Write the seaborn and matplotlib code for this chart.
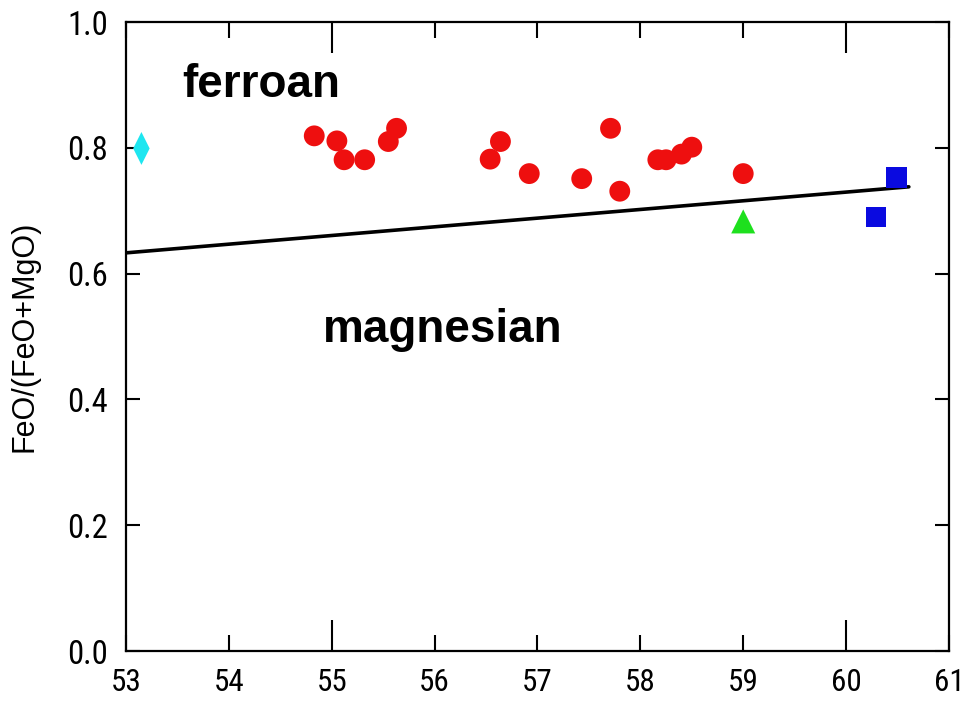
import matplotlib
matplotlib.use("Agg")
import matplotlib.pyplot as plt
from matplotlib import font_manager
from matplotlib.ticker import FixedLocator, FixedFormatter
import seaborn as sns

# ---- data ----
red_x = [54.83, 55.05, 55.12, 55.32, 55.55, 55.63, 56.54, 56.64, 56.92,
         57.43, 57.71, 57.80, 58.17, 58.25, 58.40, 58.50, 59.00]
red_y = [0.819, 0.811, 0.781, 0.781, 0.810, 0.831, 0.782, 0.810, 0.759,
         0.751, 0.831, 0.731, 0.781, 0.781, 0.790, 0.801, 0.759]
cyan_x = [53.15]
cyan_y = [0.799]
green_x = [59.00]
green_y = [0.683]
blue_x = [60.49, 60.29]
blue_y = [0.753, 0.690]
line_x = [53.0, 60.61]
line_y = [0.633, 0.738]

x_ticks = [53, 54, 55, 56, 57, 58, 59, 60, 61]
x_major = [55, 60]
y_ticks = [0.0, 0.2, 0.4, 0.6, 0.8, 1.0]
y_tick_labels = ["0.0", "0.2", "0.4", "0.6", "0.8", "1.0"]
x_label = ""
y_label = "FeO/(FeO+MgO)"
labels = ["ferroan", "magnesian"]

sns.set_style("white")
names = {f.name for f in font_manager.fontManager.ttflist}
narrow = "Liberation Sans"
for cand in ["Liberation Sans Narrow", "Arial Narrow", "Roboto Condensed",
             "DejaVu Sans Condensed", "Open Sans Condensed"]:
    if cand in names:
        narrow = cand
        break
plt.rcParams["font.family"] = ["Liberation Sans", "DejaVu Sans"]
plt.rcParams["text.color"] = "black"
plt.rcParams["axes.labelcolor"] = "black"
plt.rcParams["xtick.color"] = "black"
plt.rcParams["ytick.color"] = "black"

fig = plt.figure(figsize=(9.64, 7.01), dpi=100)
ax = fig.add_axes([0.1307, 0.0713, 0.8537, 0.8973])

diamond = [(0, 1), (0.5, 0), (0, -1), (-0.5, 0), (0, 1)]

sns.lineplot(x=line_x, y=line_y, ax=ax, color="black", linewidth=2.6, zorder=2)
sns.scatterplot(x=red_x, y=red_y, ax=ax, color="#ee0f0f", marker="o", s=225,
                edgecolor="none", zorder=3)
sns.scatterplot(x=cyan_x, y=cyan_y, ax=ax, color="#1ee6f0", marker=diamond, s=560,
                edgecolor="none", zorder=3)
sns.scatterplot(x=green_x, y=green_y, ax=ax, color="#1ee01e", marker="^", s=300,
                edgecolor="none", zorder=3)
sns.scatterplot(x=blue_x, y=blue_y, ax=ax, color="#0a0ae0", marker="s", s=220,
                edgecolor="none", zorder=3)

ax.set_xlim(53, 61)
ax.set_ylim(0, 1.0)

minor_ticks = [t for t in x_ticks if t not in x_major]
ax.xaxis.set_major_locator(FixedLocator(x_major))
ax.xaxis.set_major_formatter(FixedFormatter([str(t) for t in x_major]))
ax.xaxis.set_minor_locator(FixedLocator(minor_ticks))
ax.xaxis.set_minor_formatter(FixedFormatter([str(t) for t in minor_ticks]))
ax.yaxis.set_major_locator(FixedLocator(y_ticks))
ax.yaxis.set_major_formatter(FixedFormatter(y_tick_labels))

ax.tick_params(axis="x", which="major", direction="in", length=22, width=1.5,
               top=True, bottom=True, pad=12, labelsize=22.5, colors="black")
ax.tick_params(axis="x", which="minor", direction="in", length=11.5, width=1.5,
               top=True, bottom=True, pad=12, labelsize=22.5, colors="black")
ax.tick_params(axis="y", which="major", direction="in", length=10, width=1.5,
               left=True, right=True, pad=13, labelsize=23.5, colors="black")
for lab in ax.get_xticklabels(which="both") + ax.get_yticklabels():
    lab.set_fontfamily([narrow, "DejaVu Sans"])
    lab.set_fontstretch("condensed")

for sp in ax.spines.values():
    sp.set_linewidth(1.6)
    sp.set_color("black")

ax.set_xlabel(x_label)
ax.set_ylabel(y_label, fontsize=22, labelpad=20, color="black")

ax.text(54.31, 0.90, labels[0], fontsize=33, fontweight="bold", ha="center",
        va="center", color="black")
ax.text(56.08, 0.51, labels[1], fontsize=33, fontweight="bold", ha="center",
        va="center", color="black")

fig.savefig("out.png", dpi=100)
